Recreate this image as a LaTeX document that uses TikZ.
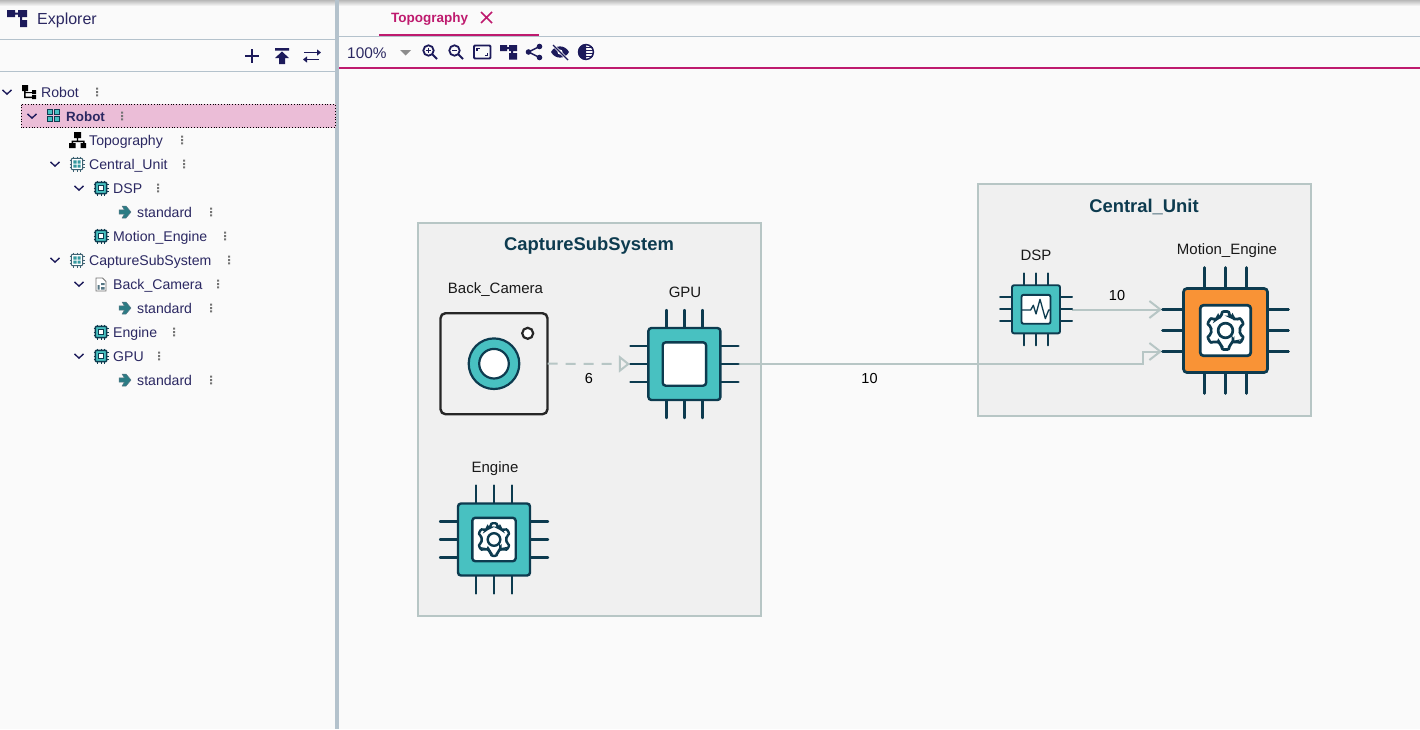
\documentclass[tikz,border=0pt]{standalone}
\usepackage{fontspec}
\setmainfont{Liberation Sans}
\usetikzlibrary{arrows.meta,calc}
\definecolor{pagebg}{HTML}{FAFAFA}
\definecolor{boxbg}{HTML}{F0F0F0}
\definecolor{boxline}{HTML}{B7C6C5}
\definecolor{chipteal}{HTML}{48C1C1}
\definecolor{chipdark}{HTML}{0D3B4F}
\definecolor{chiporange}{HTML}{F99336}
\definecolor{uiink}{HTML}{2B2862}
\definecolor{uinavy}{HTML}{1C1A5A}
\definecolor{uipink}{HTML}{BE1A6E}
\definecolor{uirule}{HTML}{B4C2CC}
\definecolor{rowpink}{HTML}{EBBDD7}
\definecolor{arrowteal}{HTML}{2B7C84}
\tikzset{
  x=1pt,y=-1pt,
  rowtext/.style={anchor=base west,inner sep=0pt,text=uiink,font=\fontsize{14.1}{16}\selectfont},
  difflabel/.style={inner sep=0pt,text=black!90,font=\fontsize{15}{17}\selectfont},
  edgelabel/.style={inner sep=0pt,text=black,font=\fontsize{14.5}{16}\selectfont},
  grouptitle/.style={inner sep=0pt,text=chipdark,font=\bfseries\fontsize{18.4}{20}\selectfont},
  groupbox/.style={draw=boxline,fill=boxbg,line width=2pt},
  chipbox/.style={inner sep=0pt,outer sep=0pt,minimum size=#1},
  link/.style={draw=boxline,line width=2pt},
  openhead/.style={-{Straight Barb[length=11pt,width=17pt,line width=2pt]}},
  hollowhead/.style={-{Triangle[length=11pt,width=17pt,fill=boxbg,line width=2pt]}},
  uiicon/.style={draw=uinavy,line width=1.8pt,fill=none},
}
% big chip
\newcommand\gearicon[1]{%
  \draw[chipdark,line width=#1,fill=white,rounded corners=2pt]
    (59:12.4) \foreach \a in {90,150,210,270,330,30}{
      -- (\a-31:12.4) -- (\a-15:12.6) -- (\a-11:16.6) -- (\a+11:16.6) -- (\a+15:12.6) -- (\a+29:12.4)
    } -- cycle;
  \draw[chipdark,line width=#1] (0,0) circle (6.3);
}
\newcommand\chipicon[5]{%
  \begin{scope}[shift={(#1)},scale=#2]
    \pgfmathsetmacro{\crn}{3*#2}
    \foreach \o in {-18,0,18}{
      \draw[chipdark,line width=#4pt,line cap=round] (\o,-54) -- (\o,54);
      \draw[chipdark,line width=#4pt,line cap=round] (-54,\o) -- (54,\o);
    }
    \draw[chipdark,line width=#4pt,fill=#3,rounded corners=\crn pt] (-36,-36) rectangle (36,36);
    \draw[chipdark,line width=#4pt,fill=white,rounded corners=\crn pt] (-21.7,-21.7) rectangle (21.7,21.7);
    #5
  \end{scope}}
% sidebar icons
\newcommand\chev[2]{\draw[uinavy,line width=1.4pt] (#1-4.5,#2-2.2) -- (#1,#2+2.2) -- (#1+4.5,#2-2.2);}
\newcommand\kebab[2]{\fill[black!55] (#1-1,#2-4.4) rectangle (#1+1,#2-2.4) (#1-1,#2-1) rectangle (#1+1,#2+1) (#1-1,#2+2.4) rectangle (#1+1,#2+4.4);}
\newcommand\minichip[3]{%
  \begin{scope}[shift={(#1,#2)}]
    \foreach \o in {-3.5,0,3.5}{
      \draw[chipdark,line width=.9pt] (\o,-7.5) -- (\o,7.5) (-7.5,\o) -- (7.5,\o);
    }
    \draw[chipdark,line width=1.5pt,fill=chipteal,rounded corners=.8pt] (-5.6,-5.6) rectangle (5.6,5.6);
    \draw[chipdark,line width=.6pt,fill=white] (-2.7,-2.7) rectangle (2.7,2.7);
  \end{scope}}
\newcommand\gridchip[2]{%
  \begin{scope}[shift={(#1,#2)}]
    \foreach \o in {-3.5,0,3.5}{
      \draw[chipdark!80,line width=.9pt] (\o,-7.5) -- (\o,7.5) (-7.5,\o) -- (7.5,\o);
    }
    \draw[chipdark!80,line width=1.1pt,fill=white,rounded corners=.8pt] (-5.6,-5.6) rectangle (5.6,5.6);
    \fill[chipteal!70!chipdark] (-3.6,-3.6) rectangle (-.5,-.5) (.5,-3.6) rectangle (3.6,-.5) (-3.6,.5) rectangle (-.5,3.6) (.5,.5) rectangle (3.6,3.6);
  \end{scope}}
\newcommand\stdarrow[2]{\fill[arrowteal,draw=chipdark!70,line width=.5pt,line join=round] (#1-6,#2-2.2) -- (#1-.5,#2-2.2) -- (#1-3,#2-6) -- (#1+1,#2-6) -- (#1+6,#2) -- (#1+1,#2+6) -- (#1-3,#2+6) -- (#1-.5,#2+2.2) -- (#1-6,#2+2.2) -- cycle;}
\begin{document}
\begin{tikzpicture}
\useasboundingbox (0,0) rectangle (1420,729);
\fill[pagebg] (0,0) rectangle (1420,729);
\shade[top color=black!28,bottom color=pagebg] (0,0) rectangle (1420,6);
% frame of the window
\fill[uirule] (335,0) rectangle (339,729);
\draw[uirule,line width=1pt] (0,39.5) -- (335,39.5) (0,71.5) -- (335,71.5);
\draw[uirule,line width=1pt] (339,36.5) -- (1420,36.5);
\draw[uipink,line width=2pt] (339,68) -- (1420,68);
\draw[uipink,line width=2pt] (379,35) -- (539,35);
% header
\fill[uinavy] (7,10) rectangle (15,17) (18,10) rectangle (27,17) (20,17) rectangle (22,24) (15,12.5) rectangle (18,14.5) (20,20) rectangle (27,27);
\node[rowtext,font=\fontsize{16}{18}\selectfont] (explorer) at (37,24) {Explorer};
\draw[uinavy,line width=2pt] (245,56) -- (259,56) (252,49) -- (252,63);
\fill[uinavy] (275,48) rectangle (289,50.5) (282,51.5) -- (289,58) -- (285,58) -- (285,64) -- (279,64) -- (279,58) -- (275,58) -- cycle;
\draw[uinavy,line width=1.8pt,-{Triangle[length=4pt,width=6pt]}] (304,52.5) -- (321,52.5);
\draw[uinavy,line width=1.8pt,-{Triangle[length=4pt,width=6pt]}] (319,59.5) -- (303,59.5);
% selected row
\draw[rowpink,fill=rowpink] (21,104.5) rectangle (335,127.5);
\draw[black,line width=.8pt,dotted] (21,104.5) rectangle (335,127.5);
% rows
\chev{7}{92}
\fill[black] (22,85) rectangle (28,91) (32,90) rectangle (36,94) (32,95) rectangle (36,99) (24,90) rectangle (25.5,98) (24,92) rectangle (32,93.2) (24,96.5) rectangle (32,98);
\node[rowtext] (r1) at (41,97) {Robot}; \kebab{97}{92}
\chev{32}{116}
\foreach \xx/\yy in {47.5/109.5,54.5/109.5,47.5/116.5,54.5/116.5}{\draw[chipdark,line width=1pt,fill=chipteal] (\xx,\yy) rectangle ++(5,5);}
\node[rowtext,font=\bfseries\fontsize{13.4}{16}\selectfont] (r2) at (66,121) {Robot}; \kebab{122}{116}
\fill[black] (74,132) rectangle (81,138) (76.8,138) rectangle (78.2,141) (71.5,140.5) rectangle (84.5,142) (71.5,140.5) rectangle (73,143) (83,140.5) rectangle (84.5,143) (69,143) rectangle (75.5,148) (80.5,143) rectangle (86,148);
\node[rowtext] (r3) at (89,145) {Topography}; \kebab{182}{140}
\chev{55}{164} \gridchip{77}{164}
\node[rowtext] (r4) at (89,169) {Central\_Unit}; \kebab{184}{164}
\chev{79}{188} \minichip{101}{188}{}
\node[rowtext] (r5) at (113,193) {DSP}; \kebab{158}{188}
\stdarrow{125}{212}
\node[rowtext] (r6) at (137,217) {standard}; \kebab{211}{212}
\minichip{101}{236}{}
\node[rowtext] (r7) at (113,241) {Motion\_Engine}; \kebab{225}{236}
\chev{55}{260} \gridchip{77}{260}
\node[rowtext] (r8) at (89,265) {CaptureSubSystem}; \kebab{229}{260}
\chev{79}{284}
\draw[black!55,line width=.8pt,fill=white] (96,278) -- (102.5,278) -- (106,281.5) -- (106,291) -- (96,291) -- cycle;
\fill[chipdark!70] (97.5,285) rectangle (99.5,289.5) (101,283) rectangle (104.5,285) (101,287) rectangle (104.5,289.5);
\node[rowtext] (r9) at (113,289) {Back\_Camera}; \kebab{218}{284}
\stdarrow{125}{308}
\node[rowtext] (r10) at (137,313) {standard}; \kebab{211}{308}
\minichip{101}{332}{}
\node[rowtext] (r11) at (113,337) {Engine}; \kebab{174}{332}
\chev{79}{356} \minichip{101}{356}{}
\node[rowtext] (r12) at (113,361) {GPU}; \kebab{159}{356}
\stdarrow{125}{380}
\node[rowtext] (r13) at (137,385) {standard}; \kebab{211}{380}
% tab and toolbar
\node[rowtext,text=uipink,font=\bfseries\fontsize{13.5}{16}\selectfont] (tab) at (391,22) {Topography};
\draw[uipink,line width=1.6pt] (481,12) -- (492,23) (492,12) -- (481,23);
\node[rowtext,text=uiink,font=\fontsize{15.4}{18}\selectfont] (zoomlevel) at (347,58) {100\%};
\fill[black!45] (400,50) -- (411,50) -- (405.5,55.5) -- cycle;
\draw[uiicon] (428.5,50.5) circle (5.2) (432.5,54.5) -- (437,59);
\draw[uinavy,line width=1pt] (426,50.5) -- (431,50.5) (428.5,48) -- (428.5,53);
\draw[uiicon] (454.5,50.5) circle (5.2) (458.5,54.5) -- (463,59);
\draw[uinavy,line width=1pt] (452,50.5) -- (457,50.5);
\draw[uiicon,rounded corners=1pt] (474,45.5) rectangle (490.5,58.5);
\draw[uinavy,line width=1.2pt] (477,51) -- (477,48.5) -- (480,48.5) (487.5,53) -- (487.5,55.5) -- (484.5,55.5);
\fill[uinavy] (500,45) rectangle (507,51) (509,45) rectangle (517,51) (511,51) rectangle (513,54) (509,53) rectangle (517,59.5) (507,47) rectangle (509,49);
\fill[uinavy] (539.5,46.5) circle (2.8) (539.5,57.5) circle (2.8) (528.5,52) circle (2.8);
\draw[uinavy,line width=1.5pt] (539.5,46.5) -- (528.5,52) -- (539.5,57.5);
\fill[uinavy] (551,52) .. controls (555,44.5) and (565,44.5) .. (569,52) .. controls (565,59.5) and (555,59.5) .. (551,52) -- cycle;
\fill[white] (560,52) circle (2.5);
\draw[pagebg,line width=2.8pt] (553,45) -- (568,60);
\draw[uinavy,line width=1.4pt] (553,45) -- (568,60);
\begin{scope}
  \clip (578,43) rectangle (586,61);
  \fill[uinavy] (586,52) circle (8);
\end{scope}
\draw[uinavy,line width=1.5pt] (586,52) circle (7.4);
\foreach \yy in {47.5,50.5,53.5,56.5}{\draw[uinavy,line width=.9pt] (586,\yy) -- (592.5,\yy);}
% groups
\node[groupbox,inner sep=0pt,outer sep=0pt,minimum width=343.5pt,minimum height=393pt] (capture) at (589.25,419.5) {};
\node[groupbox,inner sep=0pt,outer sep=0pt,minimum width=333.5pt,minimum height=232pt] (central) at (1144.25,300) {};
\node[grouptitle] (capturetitle) at (589,246) {CaptureSubSystem};
\node[grouptitle] (centraltitle) at (1144,207) {Central\_Unit};
% device nodes
\node[draw=black!85,fill=boxbg,line width=2.4pt,rounded corners=5pt,inner sep=0pt,outer sep=0pt,minimum width=107pt,minimum height=101pt] (camera) at (494,363.7) {};
\node[chipbox=109pt] (gpu) at (684.4,364) {};
\node[chipbox=109pt] (engine) at (494,539.5) {};
\node[chipbox=72.7pt] (dsp) at (1036,309.3) {};
\node[chipbox=127pt] (motion) at (1225.5,330.5) {};
\coordinate (motionin1) at ([yshift=21pt]motion.west);
\coordinate (motionin2) at ([yshift=-21pt]motion.west);
\coordinate (elbow) at (1143,364);
% connectors
\draw[link,dash pattern=on 10pt off 8pt,hollowhead] (camera.east) -- (gpu.west);
\draw[link,openhead] (gpu.east) -- (elbow) -- (elbow |- motionin2) -- (motionin2);
\draw[link,openhead] (dsp.east |- motionin1) -- (motionin1);
% chips
\chipicon{gpu}{1}{chipteal}{2.4}{}
\chipicon{engine}{1}{chipteal}{2.4}{\gearicon{2.4pt}}
\chipicon{dsp}{.667}{chipteal}{1.9}{\draw[chipdark,line width=1.3pt,line join=round] (-21,1) -- (-8,1) -- (-4,-6) -- (0,7) -- (6,-15) -- (14,14) -- (19,1) -- (21,1);}
\chipicon{motion}{1.167}{chiporange}{2.7}{\gearicon{2.7pt}}
% camera details
\draw[chipdark,line width=2.2pt,fill=chipteal] (camera.center) circle (25.3);
\draw[chipdark,line width=2.2pt,fill=white] (camera.center) circle (14.8);
\node[draw=black!85,line width=2.2pt,circle,fill=white,inner sep=0pt,minimum size=11pt] (lens) at (527.7,333.3) {};
% labels
\node[difflabel] (l1) at (495.5,290) {Back\_Camera};
\node[difflabel] (l2) at (685,292) {GPU};
\node[difflabel] (l3) at (495,469) {Engine};
\node[difflabel] (l4) at (1036,255) {DSP};
\node[difflabel] (l5) at (1227,251) {Motion\_Engine};
\node[edgelabel] (e1) at (589,378) {6};
\node[edgelabel] (e2) at (869.5,378) {10};
\node[edgelabel] (e3) at (1117,295) {10};
\end{tikzpicture}
\end{document}
